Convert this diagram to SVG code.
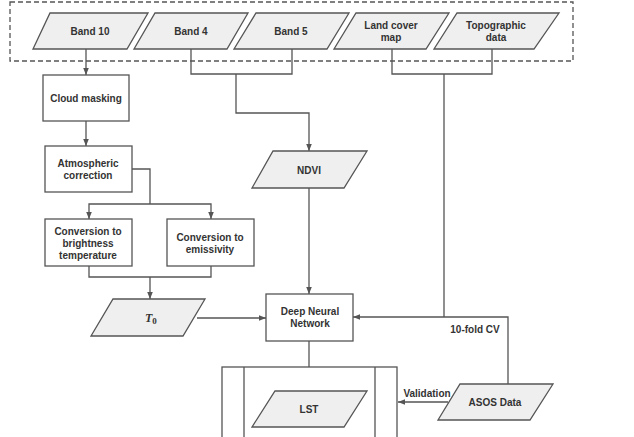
<svg xmlns="http://www.w3.org/2000/svg" width="634" height="437" viewBox="0 0 634 437">
<style>
.b{fill:#fff;stroke:#555;stroke-width:1.3}
.p{fill:#efefef;stroke:#555;stroke-width:1.3}
.t{font-family:"Liberation Sans",Arial,sans-serif;font-weight:bold;font-size:10px;fill:#333;text-anchor:middle}
.c{fill:none;stroke:#555;stroke-width:1.3}
</style>
<defs>
<marker id="a" viewBox="0 0 10 10" refX="10" refY="5" markerWidth="7" markerHeight="7" markerUnits="userSpaceOnUse" orient="auto">
<path d="M0,1 L10,5 L0,9 z" fill="#555"/>
</marker>
</defs>
<rect x="10" y="2" width="563" height="59" fill="none" stroke="#555" stroke-width="1.3" stroke-dasharray="5,3"/>
<g id="connectors">
<path class="c" d="M86,49 V75" marker-end="url(#a)"/>
<path class="c" d="M191,49 V74 H292 V49 M236,74 V113 H309 V151" marker-end="url(#a)"/>
<path class="c" d="M392,49 V74 H492 V49 M444,74 V317"/>
<path class="c" d="M86,121 V146" marker-end="url(#a)"/>
<path class="c" d="M132,169 H150 V204"/>
<path class="c" d="M150,204 H89 V219" marker-end="url(#a)"/>
<path class="c" d="M150,204 H211 V219" marker-end="url(#a)"/>
<path class="c" d="M89,266 V277 H211 V266 M150,277 V299" marker-end="url(#a)"/>
<path class="c" d="M197,318 H266" marker-end="url(#a)"/>
<path class="c" d="M309,188 V294" marker-end="url(#a)"/>
<path class="c" d="M508,384 V317 H353" marker-end="url(#a)"/>
<path class="c" d="M309,341 V391" marker-end="url(#a)"/>
<path class="c" d="M448,402 H398" marker-end="url(#a)"/>
<text class="t" x="475" y="333">10-fold CV</text>
<text class="t" x="427" y="397">Validation</text>
</g>
<g id="band10"><polygon class="p" points="50,13 148,13 127,49 33,49"/><text class="t" x="90" y="35">Band 10</text></g>
<g id="band4"><polygon class="p" points="155,13 248,13 227,49 134,49"/><text class="t" x="191" y="35">Band 4</text></g>
<g id="band5"><polygon class="p" points="256,13 349,13 327,49 234,49"/><text class="t" x="291" y="35">Band 5</text></g>
<g id="landcover"><polygon class="p" points="356,13 449,13 426,49 334,49"/><text class="t" x="391" y="29">Land cover</text><text class="t" x="391" y="41">map</text></g>
<g id="topographic"><polygon class="p" points="457,13 559,13 534,49 434,49"/><text class="t" x="496" y="29">Topographic</text><text class="t" x="496" y="41">data</text></g>
<g id="cloud"><rect class="b" x="43" y="75" width="86" height="46"/><text class="t" x="86" y="102">Cloud masking</text></g>
<g id="atm"><rect class="b" x="45" y="146" width="87" height="46"/><text class="t" x="88" y="167">Atmospheric</text><text class="t" x="88" y="179">correction</text></g>
<g id="bright"><rect class="b" x="45" y="219" width="87" height="47"/><text class="t" x="88" y="235">Conversion to</text><text class="t" x="88" y="247">brightness</text><text class="t" x="88" y="259">temperature</text></g>
<g id="emis"><rect class="b" x="167" y="219" width="87" height="47"/><text class="t" x="210" y="241">Conversion to</text><text class="t" x="210" y="253">emissivity</text></g>
<g id="t0"><polygon class="p" points="113,299 205,299 183,336 91,336"/><text x="145" y="322" style="font-family:'Liberation Serif',serif;font-style:italic;font-weight:bold;font-size:12px;fill:#333">T<tspan dy="2" font-size="9" font-style="normal">0</tspan></text></g>
<g id="ndvi"><polygon class="p" points="273,151 367,151 344,188 252,188"/><text class="t" x="309" y="174">NDVI</text></g>
<g id="dnn"><rect class="b" x="266" y="294" width="87" height="47"/><text class="t" x="310" y="315">Deep Neural</text><text class="t" x="310" y="327">Network</text></g>
<g id="lstbox"><rect class="b" x="222" y="367" width="175" height="80"/><path class="c" d="M244,367 V437 M375,367 V437"/></g>
<g id="lst"><polygon class="p" points="275,391 367,391 344,427 252,427"/><text class="t" x="309" y="413">LST</text></g>
<g id="asos"><polygon class="p" points="460,384 553,384 530,420 438,420"/><text class="t" x="495" y="406">ASOS Data</text></g>
</svg>
